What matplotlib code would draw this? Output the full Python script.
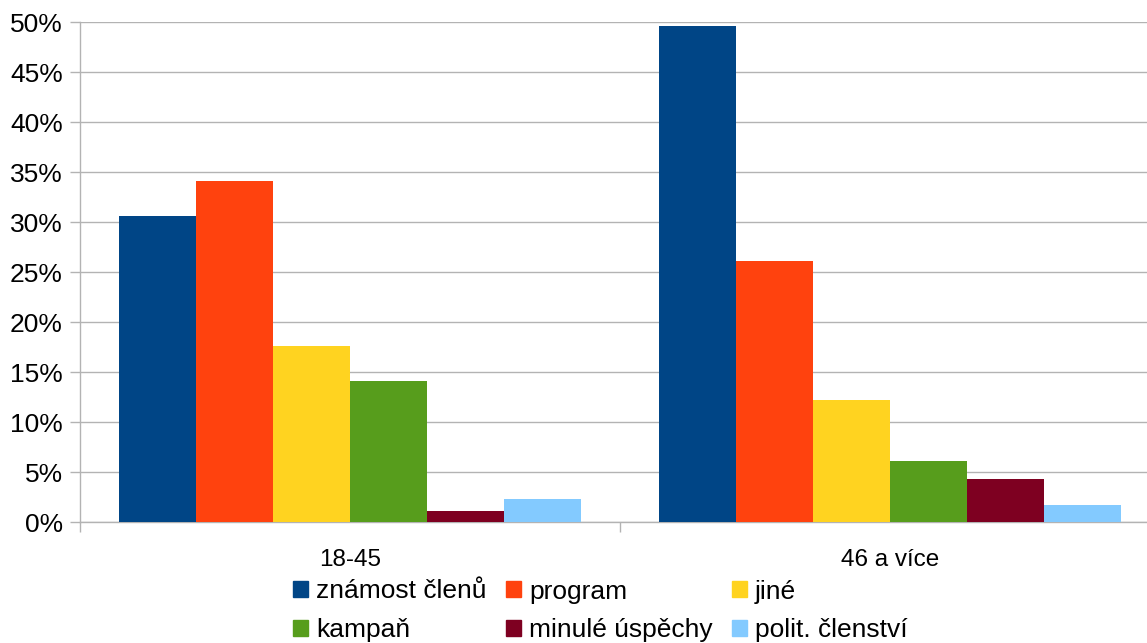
import numpy as np
import matplotlib.pyplot as plt
from matplotlib.patches import Patch

plt.rcParams['font.family'] = ['Liberation Sans', 'DejaVu Sans']

groups = ['18-45', '46 a více']
series = ['známost členů', 'program', 'jiné', 'kampaň', 'minulé úspěchy', 'polit. členství']
values = [
    [30.6, 49.6],   # známost členů
    [34.1, 26.1],   # program
    [17.6, 12.2],   # jiné
    [14.1, 6.1],    # kampaň
    [1.1, 4.3],     # minulé úspěchy
    [2.3, 1.7],     # polit. členství
]
colors = ['#004586', '#ff420e', '#ffd320', '#579d1c', '#7e0021', '#83caff']
grid_col = '#b3b3b3'

fig = plt.figure(figsize=(11.47, 6.43), dpi=100)
# axes runs a bit past the right edge, as in the original
ax = fig.add_axes([80 / 1147, 121 / 643, 1080 / 1147, 500 / 643])

w = 1 / 7
centers = np.arange(len(groups)) + 0.5
for i, (name, vals) in enumerate(zip(series, values)):
    ax.bar(centers + (i - 2.5) * w, vals, width=w, color=colors[i], label=name, zorder=3)

ax.set_xlim(0, 2)
ax.set_ylim(0, 50)
ax.set_yticks(np.arange(0, 51, 5))
ax.set_yticklabels([f'{v}%' for v in range(0, 51, 5)])
ax.yaxis.grid(True, color=grid_col, linewidth=1.0, zorder=0)

ax.set_xticks(centers)
ax.set_xticklabels(groups)
ax.set_xticks([0, 1, 2], minor=True)
ax.tick_params(axis='x', which='major', length=0, pad=19.5, labelsize=17.5)
ax.tick_params(axis='x', which='minor', length=7.5, width=1.0, color=grid_col)
ax.tick_params(axis='y', length=7.5, width=1.0, color=grid_col, pad=5, labelsize=19)

for s in ['top', 'right']:
    ax.spines[s].set_visible(False)
for s in ['left', 'bottom']:
    ax.spines[s].set_color(grid_col)
    ax.spines[s].set_linewidth(1.0)

# legend filled column by column, so reorder to match row layout
order = [0, 3, 1, 4, 2, 5]
handles = [Patch(color=colors[k], label=series[k]) for k in order]
fig.legend(handles=handles, ncol=3, loc='upper left', bbox_to_anchor=(293 / 1147, 1 - 579.5 / 643),
           frameon=False, fontsize=19, handlelength=0.58, handleheight=0.58,
           handletextpad=0.3, columnspacing=0.72, labelspacing=0.56, borderpad=0,
           borderaxespad=0)

fig.savefig('out.png', dpi=100)
